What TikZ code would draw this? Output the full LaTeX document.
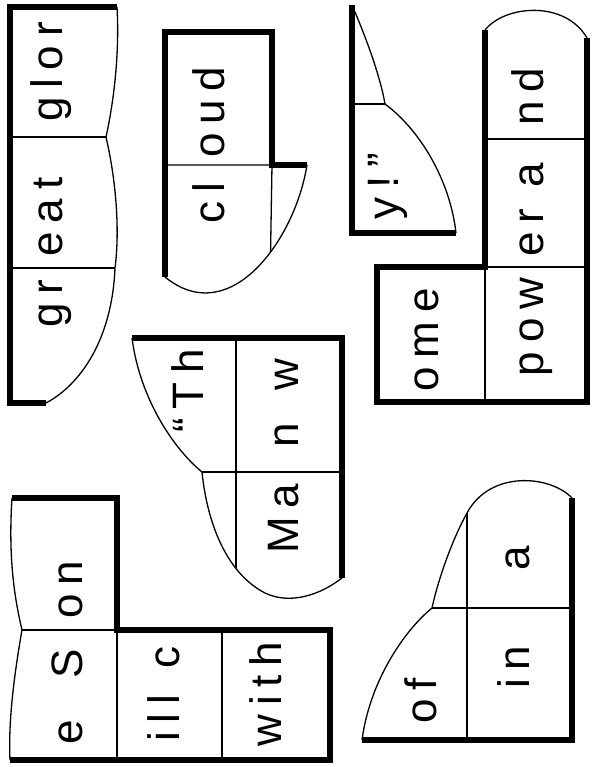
\documentclass[tikz,border=0pt]{standalone}
\usepackage{fontspec}
\newfontfamily\piecefont[LetterSpace=20]{Liberation Sans}
\begin{document}
\begin{tikzpicture}[x=1pt,y=-1pt,
  rim/.style={line width=5.5pt,line join=miter},
  cut/.style={line width=1.3pt},
  word/.style={rotate=90,anchor=mid,inner sep=0pt,font=\piecefont\fontsize{44}{50}\selectfont}]
  \useasboundingbox (0,0) rectangle (593,767);
  % great glor
  \draw[cut](117,7) .. controls (120,60) and (112,110) .. (106,137)
    .. controls (116,180) and (120,230) .. (115,268)
    .. controls (112,340) and (80,385) .. (46,403);
  \draw[cut](10,137)--(106,137) (10,268)--(115,268);
  \draw[rim](46,403)--(10,403)--(10,7)--(117,7);
  \node[word] (glor) at (60,72) {glor};
  \node[word] (eat) at (60,217) {eat};
  \node[word] (gr) at (60,304) {gr};
  % cloud
  \draw[cut](307,165) .. controls (295,240) and (230,330) .. coordinate[pos=0.4](cloudtip) (165,277);
  \draw[cut](165,165)--(272,165) (272,165)--(cloudtip);
  \draw[rim](165,277)--(165,32)--(272,32)--(272,165)--(307,165);
  \node[word] (oud) at (222,112) {oud};
  \node[word] (cl) at (222,203) {cl};
  % The Man w
  \draw[cut](132,338) .. controls (140,400) and (175,450) .. (202,472)
    .. controls (208,530) and (230,575) .. (265,593)
    .. controls (290,605) and (320,595) .. (342,578);
  \coordinate (manlow) at (236,568);
  \draw[cut](202,472)--(342,472) (236,338)--(manlow);
  \draw[rim](132,338)--(342,338)--(342,578);
  \node[word] (th) at (201,391) {“Th};
  \node[word] (nw) at (296,403) {n\hspace{12pt} w};
  \node[word] (ma) at (296,519) {Ma};
  % y!"
  \draw[cut](352,5) .. controls (365,35) and (380,75) .. (385,104)
    .. controls (420,130) and (450,180) .. (456,233);
  \draw[cut](352,104)--(385,104);
  \draw[rim](352,5)--(352,233)--(456,233);
  \node[word] (yend) at (396,186) {y!”};
  % some power and
  \draw[cut](485,30) .. controls (505,5) and (565,0) .. (587,38);
  \draw[cut](485,267)--(485,402) (485,139)--(587,139) (485,267)--(587,267);
  \draw[rim](485,30)--(485,267)--(377,267)--(377,402)--(587,402)--(587,38);
  \node[word] (ome) at (436,340) {ome};
  \node[word] (pow) at (541,327) {pow};
  \node[word] (era) at (541,210) {er a};
  \node[word] (nd) at (541,97) {nd};
  % the Son will c with
  \draw[cut](12,498) .. controls (8,560) and (15,600) .. (22,630)
    .. controls (15,670) and (8,720) .. (10,760);
  \draw[cut](22,630)--(117,630) (117,630)--(117,760) (222,630)--(222,760);
  \draw[rim](12,498)--(117,498)--(117,630)--(330,630)--(330,760)--(10,760);
  \node[word] (on) at (80,590) {on};
  \node[word] (es) at (80,697) {e\hspace{20pt} S};
  \node[word] (illc) at (177,694) {ill\hspace{6pt} c};
  \node[word] (with) at (279,694) {with};
  % of in a
  \draw[cut](572,498) .. controls (550,475) and (490,470) .. (467,513)
    .. controls (452,540) and (438,580) .. (432,608)
    .. controls (405,630) and (370,680) .. (362,740);
  \draw[cut](467,513)--(467,740) (432,608)--(572,608);
  \draw[rim](362,740)--(572,740)--(572,498);
  \node[word] (of) at (434,701) {of};
  \node[word] (in) at (527,667) {in};
  \node[word] (a) at (527,558) {a};
\end{tikzpicture}
\end{document}
